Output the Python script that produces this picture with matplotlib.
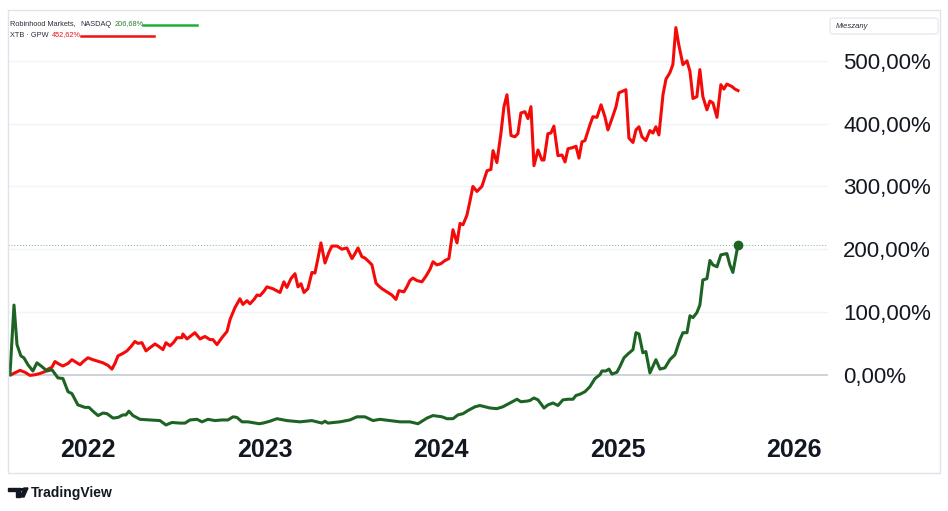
import matplotlib
matplotlib.use("Agg")
import matplotlib.pyplot as plt
from matplotlib.patches import Rectangle, FancyBboxPatch, Polygon, Circle

# cumulative return (%) since HOOD listing, time in decimal years
hood_t = [2021.558, 2021.581, 2021.598, 2021.620, 2021.637, 2021.660, 2021.688, 2021.711, 2021.739,
          2021.768, 2021.796, 2021.830, 2021.858, 2021.887, 2021.909, 2021.943, 2021.983, 2022.006,
          2022.028, 2022.057, 2022.085, 2022.108, 2022.142, 2022.170, 2022.198, 2022.215, 2022.232,
          2022.255, 2022.295, 2022.351, 2022.408, 2022.442, 2022.476, 2022.521, 2022.550, 2022.578,
          2022.618, 2022.646, 2022.680, 2022.720, 2022.759, 2022.793, 2022.822, 2022.844, 2022.873,
          2022.907, 2022.946, 2022.969, 2022.992, 2023.031, 2023.071, 2023.127, 2023.201, 2023.269,
          2023.326, 2023.343, 2023.360, 2023.428, 2023.484, 2023.524, 2023.569, 2023.615, 2023.654,
          2023.711, 2023.768, 2023.824, 2023.870, 2023.921, 2023.955, 2024.006, 2024.034, 2024.068,
          2024.096, 2024.125, 2024.153, 2024.193, 2024.221, 2024.249, 2024.278, 2024.317, 2024.351,
          2024.391, 2024.431, 2024.453, 2024.487, 2024.504, 2024.527, 2024.550, 2024.584, 2024.606,
          2024.635, 2024.663, 2024.691, 2024.720, 2024.748, 2024.765, 2024.788, 2024.816, 2024.844,
          2024.873, 2024.901, 2024.912, 2024.935, 2024.952, 2024.969, 2024.997, 2025.014, 2025.037,
          2025.059, 2025.088, 2025.105, 2025.122, 2025.144, 2025.161, 2025.184, 2025.218, 2025.241,
          2025.269, 2025.297, 2025.326, 2025.354, 2025.371, 2025.394, 2025.411, 2025.428, 2025.450,
          2025.467, 2025.484, 2025.507, 2025.524, 2025.541, 2025.564, 2025.586, 2025.620, 2025.637,
          2025.654, 2025.683]
hood_v = [0, 111, 48, 30, 27, 16, 6, 19, 13,
          6, 8, -5, -6, -27, -30, -48, -52, -52,
          -58, -65, -61, -62, -69, -68, -64, -64, -58,
          -65, -71, -72, -73, -80, -76, -77, -77, -72,
          -71, -75, -71, -73, -72, -72, -67, -68, -75,
          -75, -77, -78, -77, -74, -70, -73, -75, -73,
          -77, -74, -77, -75, -72, -67, -67, -73, -71,
          -73, -75, -75, -78, -69, -65, -67, -70, -70,
          -64, -62, -57, -51, -49, -51, -53, -54, -51,
          -45, -39, -43, -42, -41, -37, -40, -53, -48,
          -45, -49, -40, -39, -39, -33, -31, -27, -19,
          -6, 0, 6, 6, 9, 1, 4, 13, 27,
          33, 40, 67, 65, 35, 37, 3, 24, 9,
          11, 24, 32, 56, 67, 67, 94, 91, 99,
          111, 151, 153, 182, 175, 172, 191, 193, 175,
          163, 206.68]

xtb_t = [2021.564, 2021.586, 2021.615, 2021.643, 2021.671, 2021.700, 2021.728, 2021.756, 2021.773,
         2021.796, 2021.813, 2021.836, 2021.858, 2021.887, 2021.909, 2021.932, 2021.955, 2021.977,
         2022.000, 2022.028, 2022.051, 2022.085, 2022.113, 2022.136, 2022.153, 2022.170, 2022.198,
         2022.221, 2022.244, 2022.266, 2022.283, 2022.306, 2022.329, 2022.351, 2022.380, 2022.402,
         2022.425, 2022.442, 2022.465, 2022.487, 2022.504, 2022.533, 2022.538, 2022.561, 2022.584,
         2022.606, 2022.635, 2022.663, 2022.691, 2022.708, 2022.731, 2022.759, 2022.788, 2022.805,
         2022.833, 2022.861, 2022.878, 2022.901, 2022.918, 2022.941, 2022.958, 2022.975, 2022.997,
         2023.014, 2023.048, 2023.088, 2023.110, 2023.127, 2023.150, 2023.173, 2023.190, 2023.207,
         2023.224, 2023.246, 2023.269, 2023.286, 2023.303, 2023.320, 2023.343, 2023.365, 2023.382,
         2023.411, 2023.439, 2023.467, 2023.496, 2023.513, 2023.530, 2023.552, 2023.569, 2023.592,
         2023.609, 2023.632, 2023.649, 2023.666, 2023.683, 2023.700, 2023.722, 2023.745, 2023.762,
         2023.790, 2023.807, 2023.824, 2023.841, 2023.864, 2023.892, 2023.915, 2023.938, 2023.955,
         2023.977, 2024.000, 2024.023, 2024.045, 2024.068, 2024.091, 2024.108, 2024.125, 2024.147,
         2024.164, 2024.181, 2024.204, 2024.232, 2024.261, 2024.283, 2024.295, 2024.317, 2024.340,
         2024.357, 2024.374, 2024.397, 2024.419, 2024.436, 2024.453, 2024.476, 2024.493, 2024.510,
         2024.527, 2024.550, 2024.572, 2024.584, 2024.606, 2024.623, 2024.640, 2024.663, 2024.686,
         2024.703, 2024.720, 2024.748, 2024.765, 2024.782, 2024.799, 2024.816, 2024.844, 2024.861,
         2024.884, 2024.907, 2024.929, 2024.946, 2024.969, 2024.992, 2025.008, 2025.048, 2025.065,
         2025.088, 2025.105, 2025.122, 2025.139, 2025.161, 2025.184, 2025.201, 2025.218, 2025.235,
         2025.258, 2025.275, 2025.297, 2025.314, 2025.331, 2025.348, 2025.371, 2025.394, 2025.411,
         2025.428, 2025.450, 2025.467, 2025.484, 2025.507, 2025.524, 2025.541, 2025.564, 2025.586,
         2025.603, 2025.620, 2025.649, 2025.666, 2025.683]
xtb_v = [0, 3, 7, 4, -1, 0, 2, 5, 9,
         12, 21, 17, 14, 18, 24, 20, 16, 22,
         27, 24, 22, 19, 15, 9, 18, 30, 34,
         38, 45, 53, 50, 51, 38, 43, 49, 45,
         40, 51, 46, 52, 59, 59, 65, 57, 62,
         67, 57, 61, 56, 56, 48, 59, 69, 88,
         107, 121, 112, 118, 113, 120, 127, 126, 133,
         140, 137, 131, 148, 139, 153, 161, 140, 145,
         131, 137, 163, 162, 185, 210, 178, 195, 205,
         205, 200, 202, 185, 193, 202, 188, 186, 180,
         175, 146, 141, 137, 134, 131, 127, 120, 134,
         132, 140, 150, 154, 150, 148, 157, 168, 180,
         175, 177, 182, 185, 231, 210, 241, 239, 254,
         276, 300, 292, 300, 325, 327, 357, 338, 385,
         427, 446, 381, 379, 384, 417, 419, 408, 427,
         333, 358, 342, 342, 384, 385, 396, 349, 350,
         339, 360, 362, 364, 345, 371, 373, 398, 411,
         410, 430, 411, 390, 408, 427, 449, 454, 377,
         370, 390, 395, 379, 373, 389, 385, 395, 382,
         446, 471, 481, 494, 553, 525, 494, 500, 483,
         440, 443, 486, 443, 422, 436, 433, 410, 462,
         455, 463, 459, 455, 452.62]

years = [2022, 2023, 2024, 2025, 2026]
pct_ticks = [0, 100, 200, 300, 400, 500]
pct_labels = ["0,00%", "100,00%", "200,00%", "300,00%", "400,00%", "500,00%"]

RED = "#f50a0a"
GREEN = "#1d6424"
TXT = "#131722"

W, H = 948, 511
fig = plt.figure(figsize=(W / 100, H / 100), dpi=100)
fig.patch.set_facecolor("white")

# panel frame
fig.patches.append(Rectangle((8 / W, 1 - 473 / H), 932 / W, 463 / H, transform=fig.transFigure,
                             fill=False, edgecolor="#e0e3eb", lw=1))

ax = fig.add_axes([8 / W, 1 - 430 / H, 820 / W, 420 / H])
ax.set_xlim(2021.547, 2026.193)
ax.set_ylim(-88, 581)
for s in ax.spines.values():
    s.set_visible(False)

for v in pct_ticks[1:]:
    ax.axhline(v, color="#f0f3fa", lw=1, zorder=0)
ax.axhline(0, color="#c4c6ce", lw=1.1, zorder=1)
ax.axhline(hood_v[-1], color="#74b97a", lw=0.7, ls=(0, (1, 2)), zorder=1)

ax.plot(xtb_t, xtb_v, color=RED, lw=2.2, solid_joinstyle="round", zorder=3)
ax.plot(hood_t, hood_v, color=GREEN, lw=2.2, solid_joinstyle="round", zorder=3)
ax.plot(hood_t[-1], hood_v[-1], "o", color=GREEN, ms=6, zorder=4)

ax.yaxis.tick_right()
ax.set_yticks(pct_ticks)
ax.set_yticklabels(pct_labels, family="Liberation Sans", fontsize=16, color=TXT)
ax.tick_params(axis="y", length=0, pad=11)
ax.set_xticks(years)
ax.set_xticklabels([str(y) for y in years], family="Liberation Sans", fontsize=18,
                   fontweight="bold", color=TXT)
ax.tick_params(axis="x", length=0, pad=6)

# legend block
LFS = 5.3
fig.text(10 / W, 1 - 24 / H, "Robinhood Markets,", fontsize=LFS, color="#2a2e39", va="center",
         family="Liberation Sans")
fig.text(80 / W, 1 - 24 / H, "NASDAQ", fontsize=LFS, color="#2a2e39", va="center",
         family="Liberation Sans")
fig.text(115 / W, 1 - 24 / H, "206,68%", fontsize=LFS, color="#2e7d32", va="center",
         family="Liberation Sans")
fig.lines.append(plt.Line2D([143 / W, 197 / W], [1 - 25 / H, 1 - 25 / H], transform=fig.transFigure,
                            color="#1fae3c", lw=1.8))
fig.text(10 / W, 1 - 35 / H, "XTB · GPW", fontsize=LFS, color="#2a2e39", va="center",
         family="Liberation Sans")
fig.text(52 / W, 1 - 35 / H, "452,62%", fontsize=LFS, color="#e8141c", va="center",
         family="Liberation Sans")
fig.lines.append(plt.Line2D([81 / W, 154 / W], [1 - 36 / H, 1 - 36 / H], transform=fig.transFigure,
                            color="#ee1111", lw=1.8))

# scale mode box
fig.patches.append(FancyBboxPatch((830 / W, 1 - 34 / H), 108 / W, 16 / H, transform=fig.transFigure,
                                  boxstyle="round,pad=0,rounding_size=0.004", fill=False,
                                  edgecolor="#e0e3eb", lw=0.8))
fig.text(836 / W, 1 - 26 / H, "Mieszany", fontsize=5.5, color="#2a2e39", va="center",
         family="Liberation Sans", style="italic")

# TradingView mark
def px(pts):
    return [(x / W, 1 - y / H) for x, y in pts]

fig.patches.append(Polygon(px([(8, 488), (20, 488), (20, 497), (16, 497), (16, 491), (8, 491)]),
                           closed=True, transform=fig.transFigure, color=TXT))
fig.patches.append(Circle((22 / W, 1 - 489.5 / H), 1.6 / W, transform=fig.transFigure, color=TXT))
fig.patches.append(Polygon(px([(24, 488), (28, 488), (24, 497), (20, 497)]), closed=True,
                           transform=fig.transFigure, color=TXT))
fig.text(31 / W, 1 - 492.5 / H, "TradingView", fontsize=10, fontweight="bold", color=TXT,
         va="center", family="Liberation Sans")

fig.savefig("out.png", dpi=100, facecolor="white")
